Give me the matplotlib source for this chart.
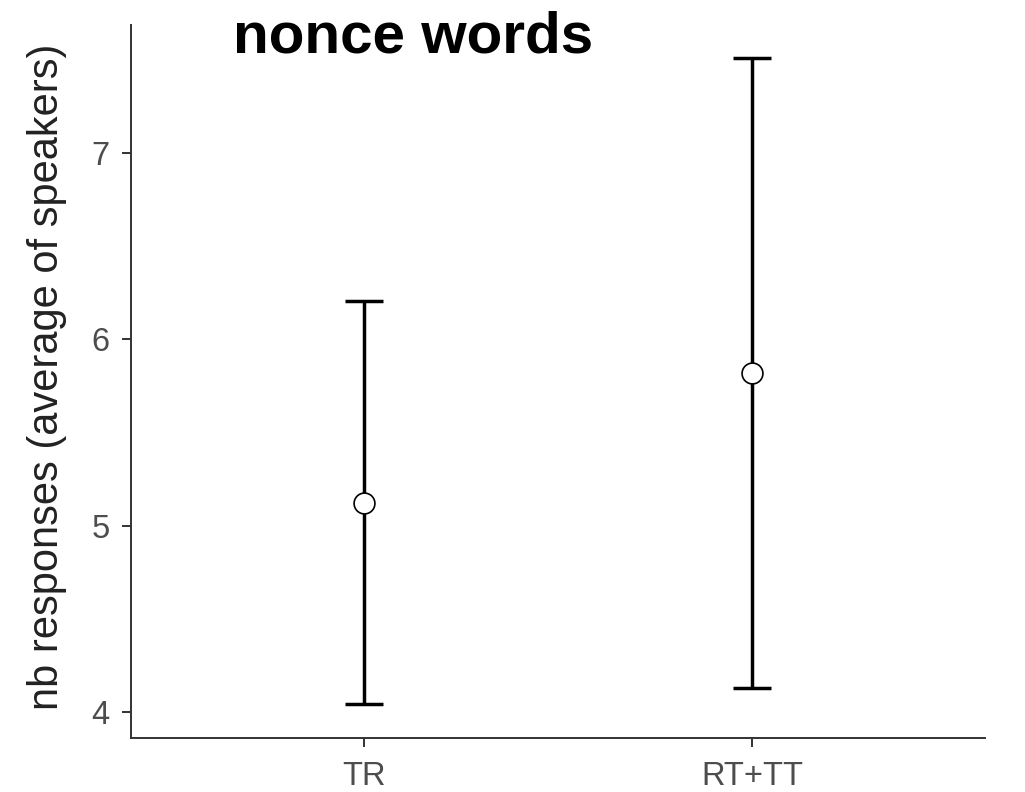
import matplotlib
matplotlib.use("Agg")
import matplotlib.pyplot as plt
import numpy as np

# group means with lower / upper interval bounds
groups = ["TR", "RT+TT"]
means = [5.12, 5.82]
lower = [4.04, 4.13]
upper = [6.205, 7.51]

plt.rcParams['font.family'] = ['Liberation Sans', 'DejaVu Sans']

fig = plt.figure(figsize=(10.25, 7.92), dpi=100)
ax = fig.add_axes([0.1278, 0.0682, 0.961 - 0.1278, 0.9684 - 0.0682])

x = np.arange(1, len(groups) + 1)
m = np.array(means)
yerr = np.vstack([m - np.array(lower), np.array(upper) - m])

ax.errorbar(x, m, yerr=yerr, fmt='none', ecolor='black', elinewidth=2.5,
            capsize=14, capthick=2.5, zorder=2)
ax.plot(x, m, 'o', ms=15, mfc='white', mec='black', mew=1.2, zorder=3)

ax.set_xlim(0.4, 2.6)
ax.set_ylim(3.86, 7.687)
ax.set_xticks(x)
ax.set_xticklabels(groups)
ax.set_yticks([4, 5, 6, 7])

for side in ['top', 'right']:
    ax.spines[side].set_visible(False)
for side in ['left', 'bottom']:
    ax.spines[side].set_color('#333333')
    ax.spines[side].set_linewidth(1.4)

ax.tick_params(axis='both', colors='#333333', length=6.5, width=1.4,
               labelsize=23.5, labelcolor='#4d4d4d')
ax.tick_params(axis='y', pad=9)
ax.tick_params(axis='x', pad=10)

ax.set_ylabel("nb responses (average of speakers)", fontsize=30,
              color='#222222')
ax.yaxis.set_label_coords(-0.075, 0.507)

fig.text(0.2273, 0.9343, "nonce words", fontsize=42, fontweight='bold',
         color='black', ha='left', va='baseline')

fig.savefig("out.png", dpi=100, facecolor='white')
